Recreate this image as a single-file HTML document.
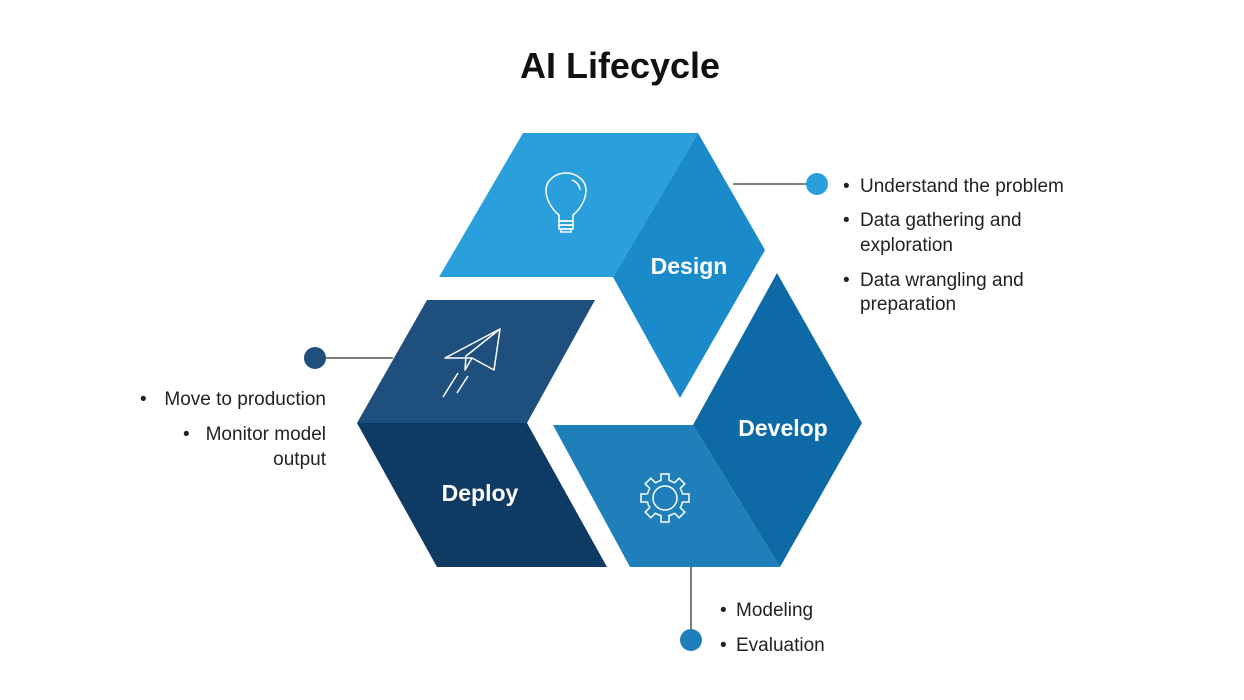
<!DOCTYPE html>
<html><head><meta charset="utf-8"><style>
html,body{margin:0;padding:0;background:#fff;}
svg{display:block;}
text{font-family:"Liberation Sans",sans-serif;}
</style></head><body>
<svg width="1244" height="700" viewBox="0 0 1244 700" xmlns="http://www.w3.org/2000/svg">
<rect width="1244" height="700" fill="#fff"/>
<text x="620" y="78" text-anchor="middle" font-size="36" font-weight="bold" fill="#111">AI Lifecycle</text>

<polygon points="523,133 698,133 613,277 439,277" fill="#2a9fdc"/>
<polygon points="698,133 765,250 680,398 613,277" fill="#1a8acb"/>
<polygon points="777,273 862,423 780,567 693,425" fill="#0e6aa6"/>
<polygon points="553,425 693,425 780,567 630,567" fill="#1e7fbb"/>
<polygon points="427,300 595,300 527,423 357,423" fill="#1f4f7c"/>
<polygon points="357,423 527,423 607,567 437,567" fill="#0f3a64"/>

<text x="689" y="274" text-anchor="middle" font-size="23" font-weight="bold" fill="#fff">Design</text>
<text x="783" y="436" text-anchor="middle" font-size="23" font-weight="bold" fill="#fff">Develop</text>
<text x="480" y="501" text-anchor="middle" font-size="23" font-weight="bold" fill="#fff">Deploy</text>

<g fill="none" stroke="#fff" stroke-width="1.5">
<path d="M559,215 C548,206 546,195 546,190 C546,180 556,173 566,173 C576,173 586,180 586,190 C586,195 584,206 573,215 L573,221 L559,221 Z"/>
<rect x="559" y="221" width="14" height="4"/><rect x="559" y="225" width="14" height="4"/><rect x="561" y="229" width="10" height="3"/>
<path d="M572,180 C577,182 580,186 580,190"/>
</g>
<g fill="none" stroke="#fff" stroke-width="1.5" stroke-linejoin="round">
<path d="M445,358 L500,329 L494,370 L472,358 Z"/>
<path d="M500,329 L466,356 L465,370 L472,358"/>
<line x1="458" y1="373" x2="443" y2="397"/><line x1="468" y1="376" x2="457" y2="393"/>
</g>
<g stroke="#fff" stroke-width="1.5" fill="#1e7fbb">
<g transform="translate(665,498)">
<rect x="-4" y="-24" width="8" height="9" transform="rotate(0)"/>
<rect x="-4" y="-24" width="8" height="9" transform="rotate(45)"/>
<rect x="-4" y="-24" width="8" height="9" transform="rotate(90)"/>
<rect x="-4" y="-24" width="8" height="9" transform="rotate(135)"/>
<rect x="-4" y="-24" width="8" height="9" transform="rotate(180)"/>
<rect x="-4" y="-24" width="8" height="9" transform="rotate(225)"/>
<rect x="-4" y="-24" width="8" height="9" transform="rotate(270)"/>
<rect x="-4" y="-24" width="8" height="9" transform="rotate(315)"/>
<circle r="18" stroke="none"/>
<circle r="12" fill="none"/>
</g>
</g>
<g transform="translate(665,498)" fill="none" stroke="#fff" stroke-width="1.5">
<circle r="18" stroke-dasharray="7.1 7.04" stroke-dashoffset="-3.5" transform="rotate(-90)"/>
</g>

<line x1="733" y1="184" x2="808" y2="184" stroke="#333" stroke-width="1.3"/>
<circle cx="817" cy="184" r="11" fill="#2a9fdc"/>
<line x1="326" y1="358" x2="393" y2="358" stroke="#333" stroke-width="1.3"/>
<circle cx="315" cy="358" r="11" fill="#1f4f7c"/>
<line x1="691" y1="567" x2="691" y2="630" stroke="#333" stroke-width="1.3"/>
<circle cx="691" cy="640" r="11" fill="#1e7fbb"/>

<g font-size="19" fill="#222">
<text x="843" y="192">•</text><text x="860" y="192">Understand the problem</text>
<text x="843" y="226">•</text><text x="860" y="226">Data gathering and</text>
<text x="860" y="251">exploration</text>
<text x="843" y="286">•</text><text x="860" y="286">Data wrangling and</text>
<text x="860" y="310">preparation</text>
<text x="140" y="405">•</text><text x="326" y="405" text-anchor="end">Move to production</text>
<text x="183" y="440">•</text><text x="326" y="440" text-anchor="end">Monitor model</text>
<text x="326" y="465" text-anchor="end">output</text>
<text x="720" y="616">•</text><text x="736" y="616">Modeling</text>
<text x="720" y="651">•</text><text x="736" y="651">Evaluation</text>
</g>
</svg>
</body></html>
